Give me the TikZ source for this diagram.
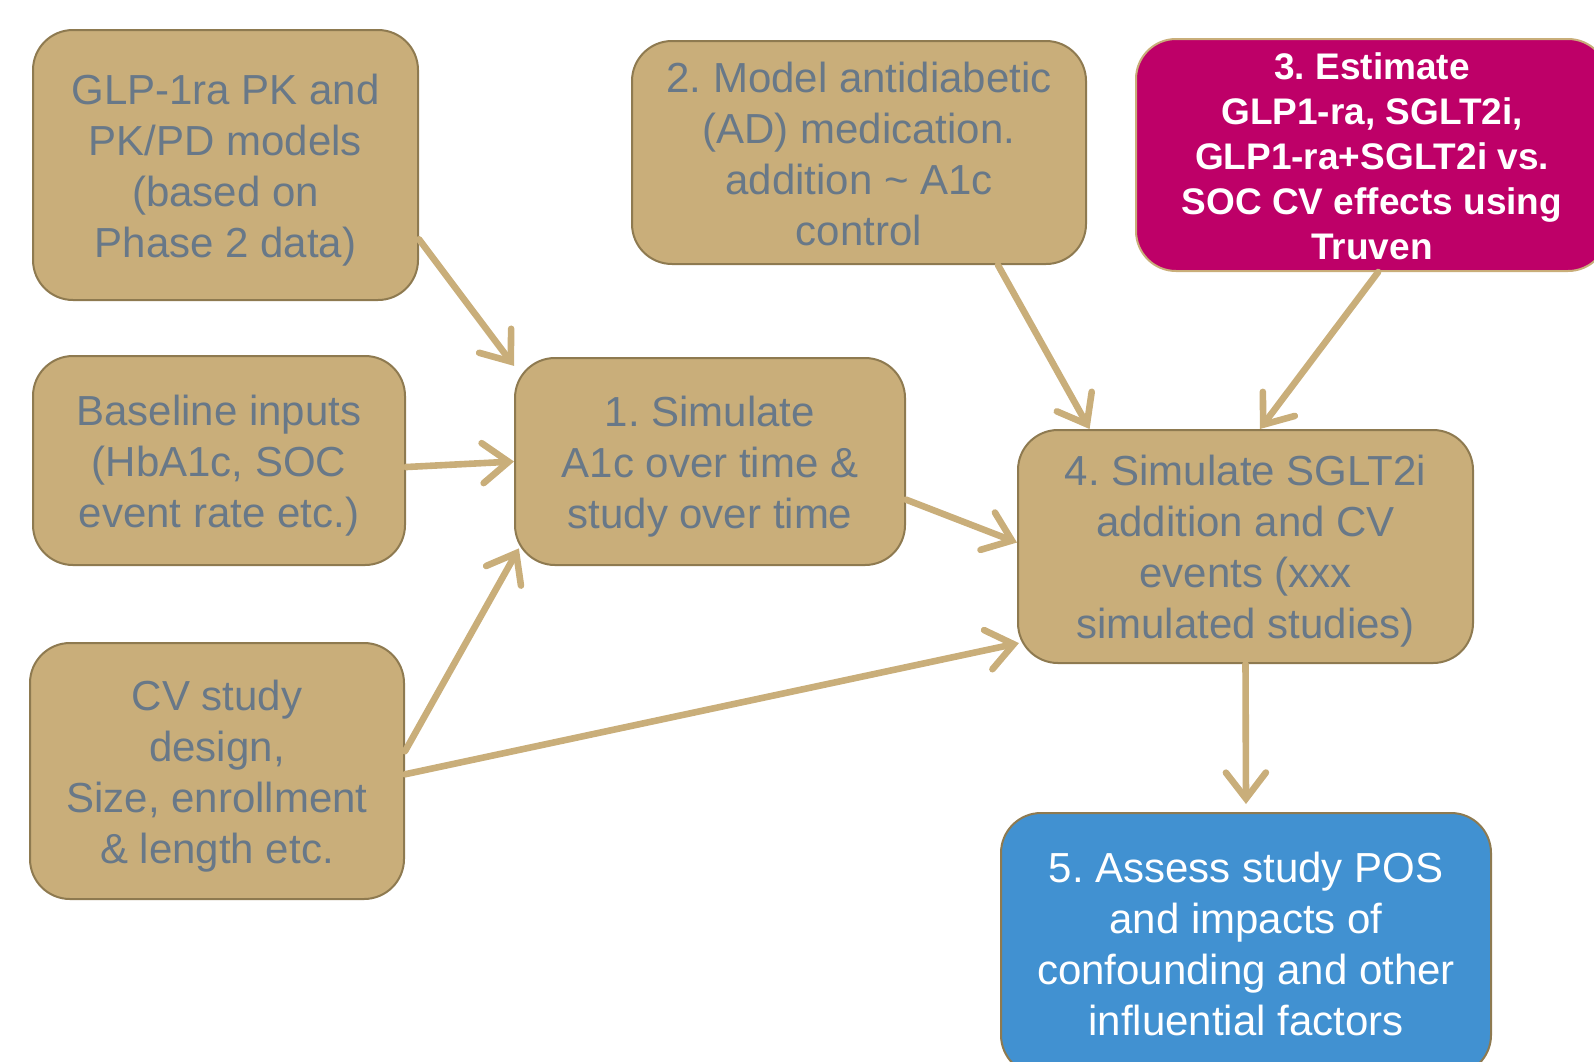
\documentclass[tikz,border=0pt]{standalone}
\usepackage{fontspec}
\setmainfont{Liberation Sans}
\frenchspacing
\usetikzlibrary{arrows.meta}
\definecolor{mytan}{RGB}{201,174,122}
\definecolor{myedge}{RGB}{142,122,80}
\definecolor{mygray}{RGB}{104,120,136}
\definecolor{mypink}{RGB}{190,0,104}
\definecolor{myblue}{RGB}{65,145,209}
\newcommand{\lift}[1]{\rule{0pt}{#1}}

\begin{document}
\begin{tikzpicture}[x=0.5pt,y=-0.5pt,
  box/.style={draw=myedge,line width=1pt,rounded corners=20pt,
  align=center,font=\fontsize{21}{25.5}\selectfont,inner sep=0pt},
  tanbox/.style={box,fill=mytan,text=mygray},
  pinkbox/.style={box,draw=mytan,fill=mypink,text=white,
  font=\bfseries\fontsize{18.5}{22.5}\selectfont},
  bluebox/.style={box,fill=myblue,text=white},
  link/.style={draw=mytan,line width=3.3pt,line cap=round,
  -{Straight Barb[length=13pt,width=20pt,line cap=round]}}]

  \useasboundingbox (0,0) rectangle (1594,1061);
  \clip (0,0) rectangle (1594,1061);

  % inputs on the left
  \node[tanbox,minimum width=192.5pt,minimum height=135pt] (glp) at (225.5,165)
   {\lift{20pt}GLP-1ra PK and\\PK/PD models\\(based on\\Phase 2 data)};
  \node[tanbox,minimum width=186pt,minimum height=104.5pt] (base) at (219,460.5)
   {\lift{20pt}Baseline inputs\\(HbA1c, SOC\\event rate etc.)};
  \node[tanbox,minimum width=187pt,minimum height=128pt] (cv) at (217,771)
   {\lift{20pt}CV study\\design,\\Size, enrollment\\\& length etc.};

  % steps
  \node[tanbox,minimum width=195pt,minimum height=103.5pt] (sim1) at (710,461.5)
   {\lift{20pt}1. Simulate\\A1c over time \&\\study over time};
  \node[tanbox,minimum width=227pt,minimum height=111.5pt] (model2) at (859,152.5)
   {\lift{16.5pt}2. Model antidiabetic\\(AD) medication.\\addition \textasciitilde\ A1c\\control};
  \node[pinkbox,minimum width=236pt,minimum height=116pt] (est3) at (1372,155)
   {\lift{15pt}3. Estimate\\GLP1-ra, SGLT2i,\\GLP1-ra+SGLT2i vs.\\SOC CV effects using\\Truven};
  \node[tanbox,minimum width=227.5pt,minimum height=116.5pt] (sim4) at (1245.5,546.5)
   {\lift{20pt}4. Simulate SGLT2i\\addition and CV\\events (xxx\\simulated studies)};
  \node[bluebox,minimum width=245pt,minimum height=131pt] (assess5) at (1246,944)
   {5. Assess study POS\\and impacts of\\confounding and other\\influential factors};

  % arrows into step 1
  \draw[link] (glp.-21.5) -- (sim1.154.4);
  \draw[link] (base.-2.3) -- (sim1.180);
  \draw[link,shorten >=-5pt] (cv.6) -- (sim1.-154.4);

  % arrows into step 4
  \draw[link,shorten >=-1pt] (cv.-1.5) -- (sim4.-157.3);
  \draw[link] (sim1.-11.2) -- (sim4.179.4);
  \draw[link] (model2.-39.8) -- (sim4.143);
  \draw[link] (est3.-87.2) -- (sim4.83.9);

  \draw[link] (sim4.south) -- ([yshift=4pt]assess5.north);

\end{tikzpicture}
\end{document}
